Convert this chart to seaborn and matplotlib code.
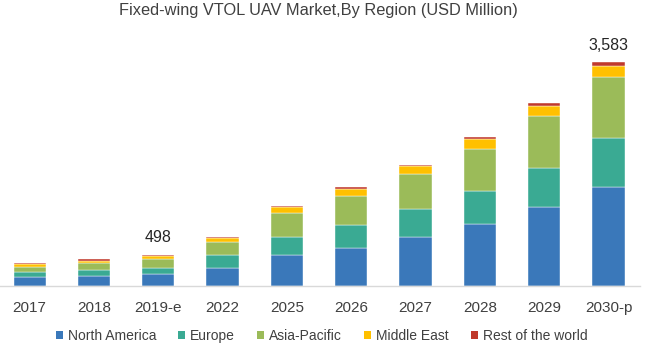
import matplotlib
matplotlib.use("Agg")
import matplotlib.pyplot as plt
from matplotlib.patches import Patch
import seaborn as sns
import pandas as pd
import numpy as np

years = ["2017", "2018", "2019-e", "2022", "2025", "2026", "2027", "2028", "2029", "2030-p"]
north_america = [139, 155, 186, 294, 502, 613, 789, 992, 1264, 1589]
europe = [90, 106, 105, 197, 288, 363, 443, 523, 629, 779]
asia_pacific = [80, 112, 143, 208, 384, 464, 555, 682, 832, 976]
middle_east = [43, 32, 43, 64, 85, 112, 138, 150, 160, 175]
rest_of_world = [16, 27, 21, 16, 27, 27, 16, 37, 38, 64]
series_names = ["North America", "Europe", "Asia-Pacific", "Middle East", "Rest of the world"]
colors = ["#3A78BA", "#3AAA93", "#9BBB59", "#FFC000", "#C0392B"]
annotations = {"2019-e": "498", "2030-p": "3,583"}

sns.set_theme(style="white")
plt.rcParams['font.family'] = ['Liberation Sans', 'DejaVu Sans']

fig = plt.figure(figsize=(6.5, 3.47), dpi=100)
ax = fig.add_axes([0, 61/347, 640/650, 266/347])

values = [north_america, europe, asia_pacific, middle_east, rest_of_world]
bottom = np.zeros(len(years))
for name, vals, col in zip(series_names, values, colors):
    df = pd.DataFrame({"year": years, "value": vals})
    sns.barplot(data=df, x="year", y="value", ax=ax, color=col, width=0.5,
                bottom=bottom, edgecolor="white", linewidth=0.3, saturation=1)
    bottom = bottom + np.array(vals)

totals = bottom
for i, y in enumerate(years):
    if y in annotations:
        ax.text(i, totals[i] + 150, annotations[y], ha="center", va="bottom",
                fontsize=11.5, color="#262626")

ax.set_xlim(-0.46, 9.49)
ax.set_ylim(0, 266 * 16)
ax.set_xlabel("")
ax.set_ylabel("")
ax.set_yticks([])
for s in ["top", "right", "left"]:
    ax.spines[s].set_visible(False)
ax.spines["bottom"].set_color("#D9D9D9")
ax.spines["bottom"].set_linewidth(1)
ax.tick_params(axis="x", length=0, pad=11, labelsize=11, labelcolor="#404040")

fig.text(0.49, 0.97, "Fixed-wing VTOL UAV Market,By Region (USD Million)",
         ha="center", va="center", fontsize=11.8, color="#404040")

handles = [Patch(facecolor=c, edgecolor="none") for c in colors]
fig.legend(handles, series_names, loc="center", bbox_to_anchor=(0.495, 0.032),
           ncol=5, frameon=False, fontsize=10, handlelength=0.5, handleheight=0.5,
           handletextpad=0.36, columnspacing=1.6, labelcolor="#404040")

fig.savefig("out.png", dpi=100)
